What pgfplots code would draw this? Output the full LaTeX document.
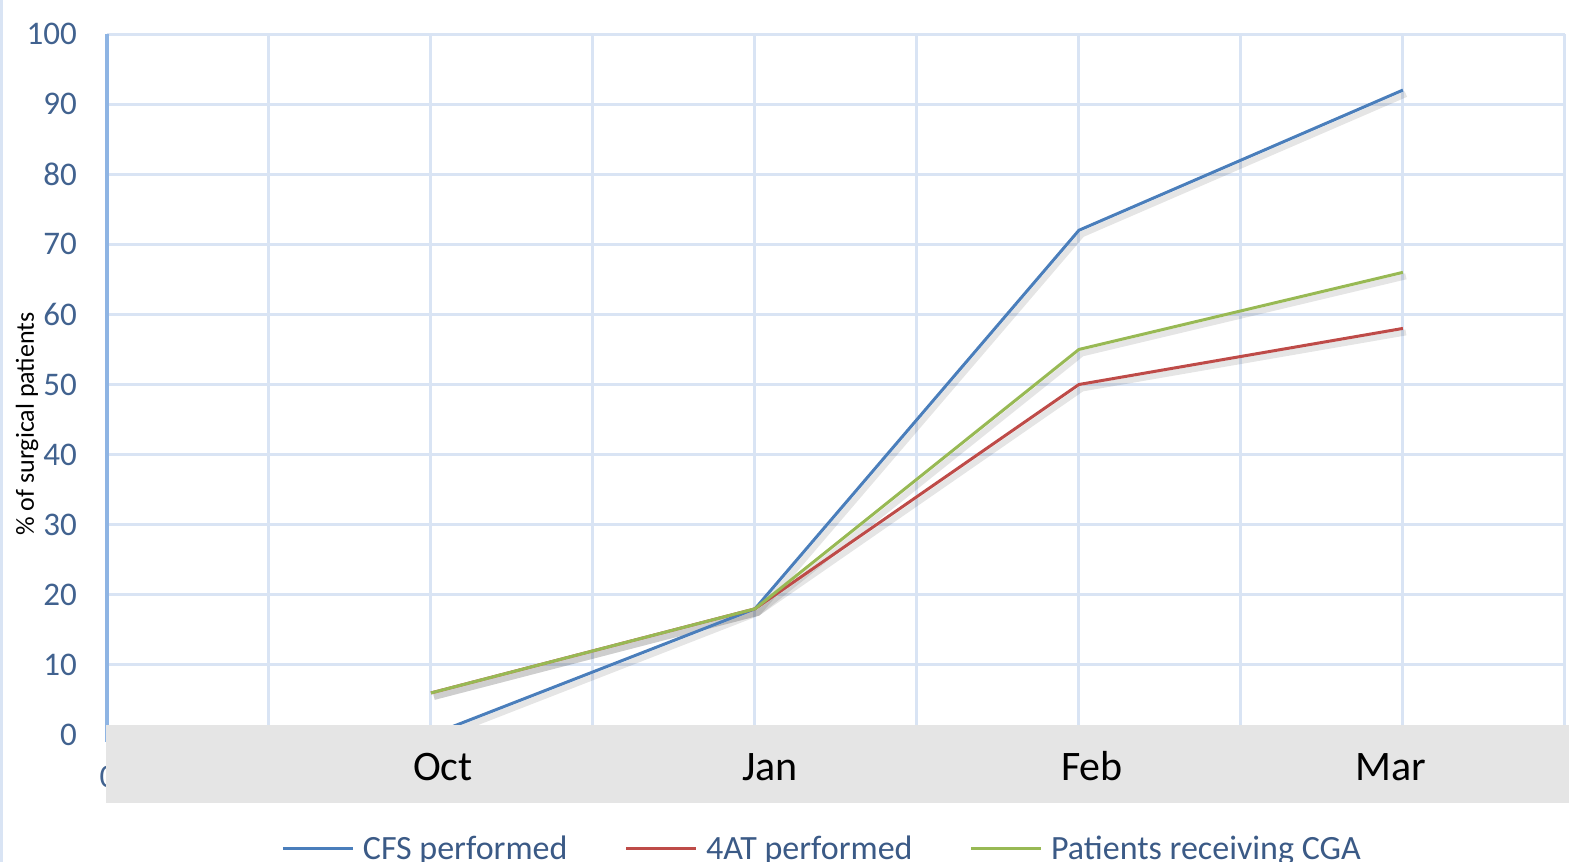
\documentclass[border=0pt]{standalone}
\usepackage{fontspec}
\setmainfont{Carlito}
\usepackage{pgfplots}
\pgfplotsset{compat=1.18}
\definecolor{gridblue}{HTML}{D9E4F4}
\definecolor{axisblue}{HTML}{8EB4E3}
\definecolor{tickblue}{HTML}{41628F}
\definecolor{legendblue}{HTML}{3B5A86}
\definecolor{cfsblue}{HTML}{4A7EBB}
\definecolor{atred}{HTML}{BE4B48}
\definecolor{cgagreen}{HTML}{98B954}
\definecolor{bandgray}{HTML}{E5E5E5}
\pgfplotsset{
  myleg/.style={legend image code/.code={%
    \draw[##1, line width=3pt] (0pt,0pt) -- (70pt,0pt);
    \path[draw=none, fill=none] (0pt,-2pt) rectangle (80pt,2pt);}},
}
\begin{document}
\begin{tikzpicture}
\begin{scope}[x=1pt,y=-1pt]
\draw[gridblue, line width=3pt] (1.5,0) -- (1.5,862);
\end{scope}
\begin{axis}[
  at={(107pt,-735pt)}, anchor=south west,
  scale only axis, width=1458pt, height=701pt,
  xmin=0, xmax=9, ymin=0, ymax=100,
  xtick={0,...,9}, xticklabels={},
  ytick={0,10,...,100},
  grid=major, grid style={gridblue, line width=3pt},
  axis line style={draw=none},
  major tick length=0pt,
  /pgf/number format/assume math mode=true,
  yticklabel style={font=\fontsize{33}{38}\selectfont, text=tickblue, inner sep=0pt, xshift=-30pt},
  clip=false,
  legend columns=3,
  legend style={at={(0.1195,-0.1612)}, anchor=west, draw=none, fill=none,
    font=\fontsize{34}{40}\selectfont, text=legendblue, inner sep=0pt,
    nodes={inner sep=0pt},
    /tikz/every even column/.append style={column sep=57pt}},
]
\draw[axisblue, line width=4pt] (axis cs:0,-1) -- (axis cs:0,100);
\addplot[black, opacity=0.10, line width=6pt, xshift=3pt, yshift=-4pt, forget plot] coordinates {(2,0) (4,18) (6,72) (8,92)};
\addplot[black, opacity=0.10, line width=6pt, xshift=3pt, yshift=-4pt, forget plot] coordinates {(2,6) (4,18) (6,50) (8,58)};
\addplot[black, opacity=0.10, line width=6pt, xshift=3pt, yshift=-4pt, forget plot] coordinates {(2,6) (4,18) (6,55) (8,66)};
\addplot[cfsblue, line width=3pt, myleg] coordinates {(2,0) (4,18) (6,72) (8,92)};
\addlegendentry{CFS performed}
\addplot[atred, line width=3pt, myleg] coordinates {(2,6) (4,18) (6,50) (8,58)};
\addlegendentry{4AT performed}
\addplot[cgagreen, line width=3pt, myleg] coordinates {(2,6) (4,18) (6,55) (8,66)};
\addlegendentry{Patients receiving CGA}
\end{axis}
\begin{scope}[x=1pt,y=-1pt]
\node[text=tickblue, font=\fontsize{33}{38}\selectfont, inner sep=0pt] at (108,777) {0};
\fill[bandgray] (106,725) rectangle (1569,803);
\node[font=\fontsize{42}{50}\selectfont, anchor=base, inner sep=0pt] at (443,780) {Oct};
\node[font=\fontsize{42}{50}\selectfont, anchor=base, inner sep=0pt] at (770,780) {Jan};
\node[font=\fontsize{42}{50}\selectfont, anchor=base, inner sep=0pt] at (1092,780) {Feb};
\node[font=\fontsize{42}{50}\selectfont, anchor=base, inner sep=0pt] at (1391,780) {Mar};
\node[font=\fontsize{26}{30}\selectfont, rotate=90, inner sep=0pt] at (27,424) {\% of surgical patients};
\end{scope}
\pgfresetboundingbox
\path[use as bounding box] (0pt,0pt) rectangle (1569pt,-862pt);
\end{tikzpicture}
\end{document}
